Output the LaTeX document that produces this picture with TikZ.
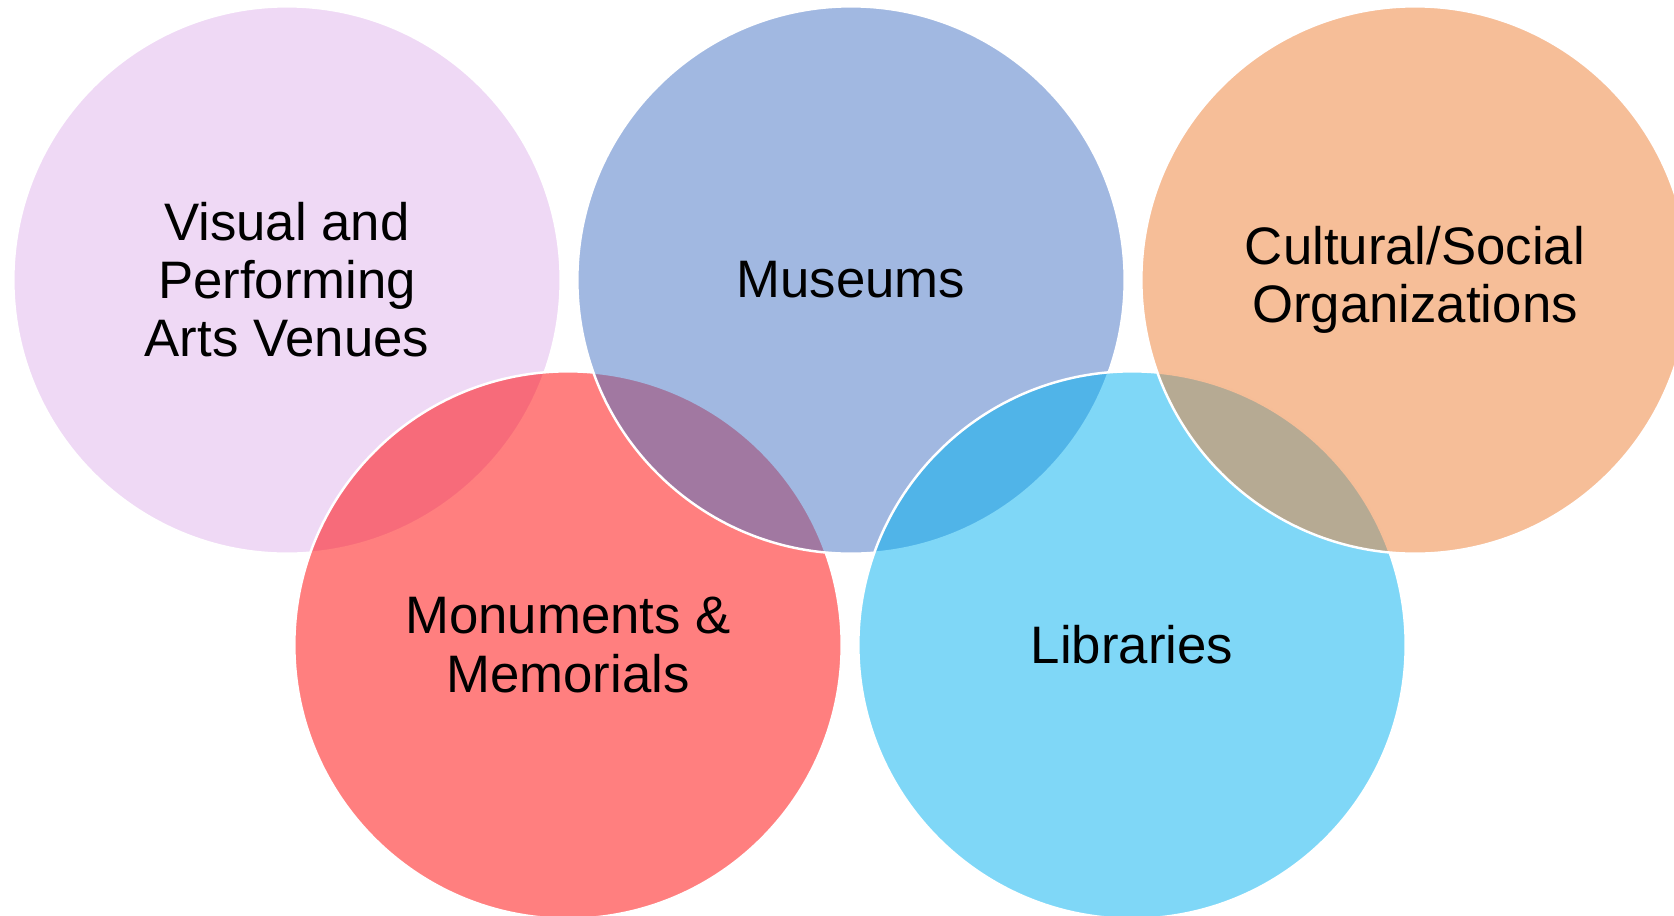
\documentclass[tikz,border=0pt]{standalone}
\usepackage{fontspec}
\setmainfont{Liberation Sans}
\definecolor{vennpurple}{RGB}{223,179,235}
\definecolor{vennred}{RGB}{255,0,0}
\definecolor{vennblue}{RGB}{68,114,196}
\definecolor{venncyan}{RGB}{0,176,240}
\definecolor{vennorange}{RGB}{237,125,49}
\begin{document}
\begin{tikzpicture}[x=0.01cm, y=-0.01cm]
	\tikzstyle{venn}=[circle, draw=white, line width=0.7pt, fill opacity=0.5, draw opacity=1, text opacity=1, minimum size=5.47cm, inner sep=0pt, align=center, font=\fontsize{15}{16.5}\selectfont]
	\newcommand\Ytop{278}
	\newcommand\Ybot{643}

	\useasboundingbox (0,-2) rectangle (1674,913);

	% drawn in this order so the overlaps mix like the original
	\node [venn, fill=vennpurple] at (287,\Ytop) (arts) {Visual and\\Performing\\Arts Venues};
	\node [venn, fill=vennred] at (568,\Ybot) (monuments) {Monuments \&\\Memorials};
	\node [venn, fill=vennblue] at (851,\Ytop) (museums) {Museums};
	\node [venn, fill=venncyan] at (1132,\Ybot) (libraries) {Libraries};
	\node [venn, fill=vennorange] at (1415,\Ytop) (cultural) {Cultural/Social\\Organizations};

\end{tikzpicture}
\end{document}
